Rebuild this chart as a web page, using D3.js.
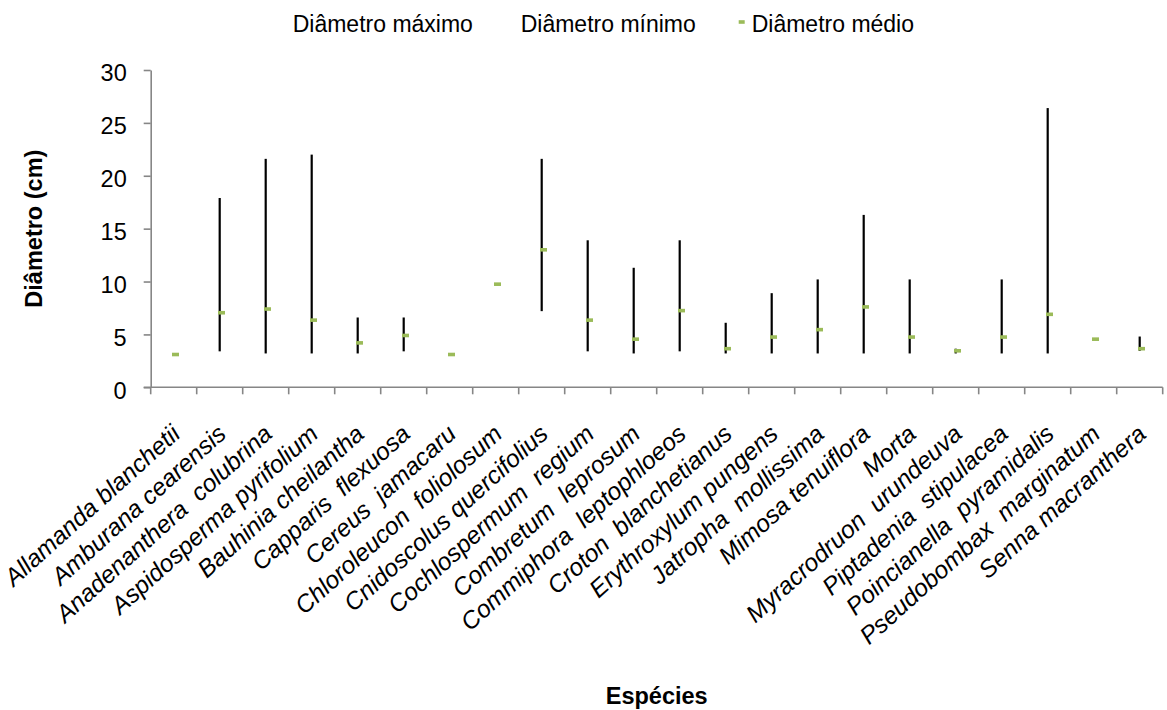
<!DOCTYPE html>
<html>
<head>
<meta charset="utf-8">
<script src="https://cdn.jsdelivr.net/npm/d3@7"></script>
<style>
  html, body { margin: 0; padding: 0; background: #fff; }
  svg { display: block; }
  text { font-family: "Liberation Sans", Arial, sans-serif; fill: #000; }
</style>
</head>
<body>
<svg id="chart" width="1167" height="710"></svg>
<script>
const categories = [
  "Allamanda blanchetii", "Amburana cearensis", "Anadenanthera  colubrina",
  "Aspidosperma pyrifolium", "Bauhinia cheilantha", "Capparis  flexuosa",
  "Cereus  jamacaru", "Chloroleucon  foliolosum", "Cnidoscolus quercifolius",
  "Cochlospermum  regium", "Combretum  leprosum", "Commiphora  leptophloeos",
  "Croton  blanchetianus", "Erythroxylum pungens", "Jatropha  mollissima",
  "Mimosa tenuiflora", "Morta", "Myracrodruon  urundeuva",
  "Piptadenia  stipulacea", "Poincianella  pyramidalis", "Pseudobombax  marginatum",
  "Senna macranthera"
];
const diamMax = [3.1, 17.9, 21.6, 22.0, 6.6, 6.6, 3.1, 9.7, 21.6, 13.9, 11.3, 13.9, 6.1, 8.9, 10.2, 16.3, 10.2, 3.65, 10.2, 26.4, 4.55, 4.8];
const diamMin = [3.1, 3.4, 3.2, 3.2, 3.2, 3.4, 3.1, 9.7, 7.2, 3.4, 3.2, 3.4, 3.2, 3.2, 3.2, 3.2, 3.2, 3.2, 3.2, 3.2, 4.55, 3.45];
const diamMed = [3.1, 7.05, 7.4, 6.35, 4.2, 4.9, 3.1, 9.75, 13.0, 6.35, 4.55, 7.25, 3.65, 4.75, 5.45, 7.6, 4.75, 3.45, 4.75, 6.9, 4.55, 3.65];
const yTicks = [0, 5, 10, 15, 20, 25, 30];
const legendLabels = ["Diâmetro máximo", "Diâmetro mínimo", "Diâmetro médio"];

(function () {
const svg = d3.select("#chart");
const pLeft = 150.7, pRight = 1162.7, pTop = 70, pBottom = 387.3;
const axisColor = "#868686";
const green = "#9BBB59";

const x = d3.scaleBand().domain(categories).range([pLeft, pRight]).padding(0);
const y = d3.scaleLinear().domain([0, 30]).range([pBottom, pTop]);

// Y axis
const yAxis = svg.append("g").attr("transform", `translate(${pLeft},0)`)
  .call(d3.axisLeft(y).tickValues(yTicks).tickSize(7).tickPadding(17).tickSizeOuter(0));
yAxis.select(".domain").attr("stroke", axisColor).attr("stroke-width", 1.6);
yAxis.selectAll(".tick line").attr("stroke", axisColor).attr("stroke-width", 1.6);
yAxis.selectAll(".tick text")
  .style("font-family", '"Liberation Sans", Arial, sans-serif')
  .style("font-size", "23.5px").attr("fill", "#000").attr("dy", "0.46em");

// X axis (ticks on category boundaries)
const xAxisG = svg.append("g");
xAxisG.append("line").attr("x1", pLeft - 7).attr("x2", pRight).attr("y1", pBottom).attr("y2", pBottom)
  .attr("stroke", axisColor).attr("stroke-width", 1.6);
const boundaries = d3.range(categories.length + 1).map(i => pLeft + i * x.step());
xAxisG.selectAll("line.tk").data(boundaries).join("line").attr("class", "tk")
  .attr("x1", d => d).attr("x2", d => d).attr("y1", pBottom).attr("y2", pBottom + 7)
  .attr("stroke", axisColor).attr("stroke-width", 1.6);

// X labels
svg.append("g").selectAll("text").data(categories).join("text")
  .attr("transform", d => `translate(${x(d) + x.bandwidth() / 2 + 8},${436}) rotate(-42)`)
  .attr("text-anchor", "end")
  .style("font-size", "24.5px").style("font-style", "italic")
  .style("white-space", "pre")
  .text(d => d);

// High-low lines
const cx = i => x(categories[i]) + x.bandwidth() / 2;
svg.append("g").selectAll("line").data(categories).join("line")
  .attr("x1", (d, i) => cx(i)).attr("x2", (d, i) => cx(i))
  .attr("y1", (d, i) => y(diamMax[i])).attr("y2", (d, i) => y(diamMin[i]))
  .attr("stroke", "#000").attr("stroke-width", 2.2)
  .attr("visibility", (d, i) => (diamMax[i] - diamMin[i]) > 0.05 ? "visible" : "hidden");

// Average markers
svg.append("g").selectAll("rect").data(categories).join("rect")
  .attr("x", (d, i) => cx(i) + 1.8 - 3.5).attr("y", (d, i) => y(diamMed[i]) - 1.8)
  .attr("width", 7).attr("height", 3.6).attr("fill", green);

// Axis titles
svg.append("text").attr("transform", `translate(42,${(pTop + pBottom) / 2}) rotate(-90)`)
  .attr("text-anchor", "middle").style("font-size", "23.5px").style("font-weight", "bold")
  .text("Diâmetro (cm)");
svg.append("text").attr("x", (pLeft + pRight) / 2).attr("y", 704)
  .attr("text-anchor", "middle").style("font-size", "23.5px").style("font-weight", "bold")
  .text("Espécies");

// Legend
const legendX = [292.7, 520.7, 751.7];
const leg = svg.append("g");
leg.selectAll("text").data(legendLabels).join("text")
  .attr("x", (d, i) => legendX[i]).attr("y", 32)
  .style("font-size", "23px").text(d => d);
leg.append("rect").attr("x", 741.7 - 3).attr("y", 22 - 1.8).attr("width", 6).attr("height", 3.6).attr("fill", green);
})();
</script>
</body>
</html>
